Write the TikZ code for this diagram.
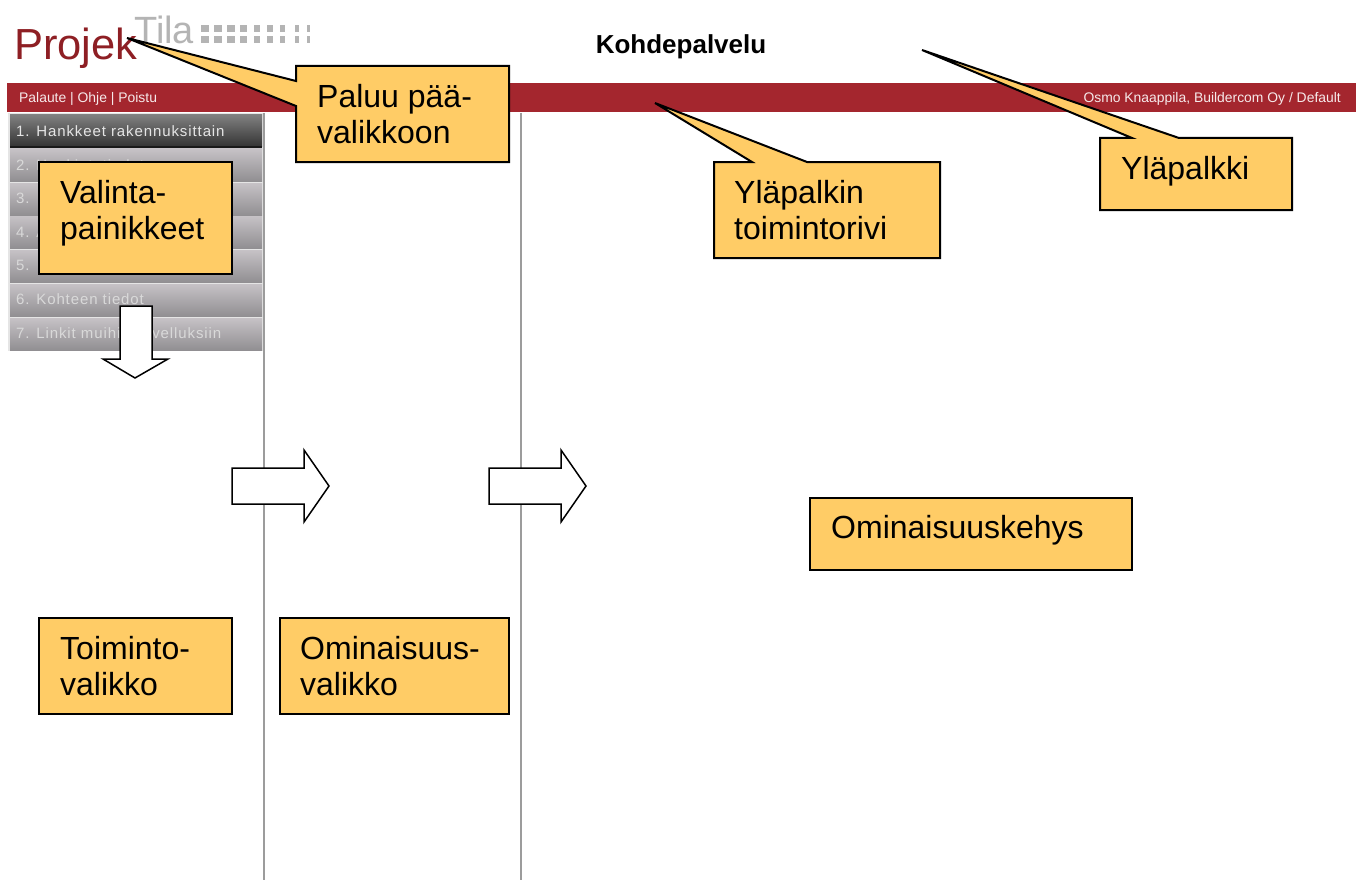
\documentclass[tikz,border=0pt]{standalone}
\usepackage{fontspec}
\setmainfont{Liberation Sans}
\definecolor{barred}{HTML}{A4262E}
\definecolor{calloutfill}{HTML}{FFCC66}
\definecolor{logored}{HTML}{8E1F24}
\definecolor{logogrey}{HTML}{B4B4B4}
\definecolor{vline}{HTML}{9C9C9C}
\definecolor{btntop}{HTML}{C6C2C6}
\definecolor{btnbot}{HTML}{918F92}
\tikzset{
  x=1pt,y=-1pt,
  calloutshape/.style={draw=black,fill=calloutfill,line width=2pt,line join=miter},
  callouttext/.style={font=\fontsize{32}{36}\selectfont,align=left,anchor=north west,inner sep=0pt,text=black},
  blockarrow/.style={draw=black,fill=white,line width=1.5pt,line join=miter},
  menutext/.style={font=\fontsize{15}{15}\selectfont\addfontfeatures{LetterSpace=6},text=#1,anchor=west,inner sep=0pt},
  bartext/.style={font=\fontsize{13.9}{14}\selectfont,text=white!90!barred,inner sep=0pt},
  divider/.style={draw=vline,line width=2pt},
  dotcell/.style={fill=logogrey,draw=none}
}
\begin{document}
\begin{tikzpicture}
\useasboundingbox (0,0) rectangle (1365,880);
\fill[white] (0,0) rectangle (1365,880);
% top bar
\fill[barred] (7,83) rectangle (1356,112);
\node[bartext,anchor=west] (barleft) at (19,99) {Palaute | Ohje | Poistu};
\node[bartext,anchor=east] (barright) at (1341,99) {Osmo Knaappila, Buildercom Oy / Default};
\node[font=\fontsize{26}{26}\selectfont\bfseries,inner sep=0pt] (title) at (681,47) {Kohdepalvelu};
% logo
\node[font=\fontsize{43.5}{44}\selectfont,text=logored,anchor=base west,inner sep=0pt] (logoA) at (14,60) {Projek};
\node[font=\fontsize{38}{38}\selectfont,text=logogrey,anchor=base west,inner sep=0pt] (logoB) at (134,44) {Tila};
\foreach \x/\w in {201/8,214/8,227/8,240/7,254/6,267/6,280/5,295/4,307/3}{
  \fill[dotcell] (\x,25) rectangle ++(\w,7);
  \fill[dotcell] (\x,36) rectangle ++(\w,7);
}
% menu
\fill[white!80!gray] (8,113) rectangle (264,351);
\shade[top color=black!50,bottom color=black!80] (10,115) rectangle (262,147);
\fill[black!90] (10,146.5) rectangle (262,148);
\foreach \a/\b in {149/181,183/215,216/248,250/282,284/316,318/350}{
  \shade[top color=btntop,bottom color=btnbot] (10,\a) rectangle (262,\b);
}
\node[menutext=white!90!black] (m1) at (16,131) {1. Hankkeet rakennuksittain};
\node[menutext=white!85!black] (m2) at (16,165) {2. Hankintatiedot};
\node[menutext=white!85!black] (m3) at (16,198) {3.};
\node[menutext=white!85!black] (m4) at (16,232) {4. A};
\node[menutext=white!85!black] (m5) at (16,265) {5.};
\node[menutext=white!85!black] (m6) at (16,299) {6. Kohteen tiedot};
\node[menutext=white!85!black] (m7) at (16,333) {7. Linkit muihin sovelluksiin};
% dividers
\draw[divider] (264,113) -- (264,880);
\draw[divider] (521,113) -- (521,880);
% block arrows
\draw[blockarrow] (120,306) -- (152,306) -- (152,359) -- (168,359) -- (135,378) -- (103,359) -- (120,359) -- cycle;
\draw[blockarrow] (232,468) -- (304,468) -- (304,450) -- (329,486) -- (304,522) -- (304,504) -- (232,504) -- cycle;
\draw[blockarrow] (489,468) -- (561,468) -- (561,450) -- (586,486) -- (561,522) -- (561,504) -- (489,504) -- cycle;
% callouts
\draw[calloutshape] (296,66) -- (509,66) -- (509,162) -- (296,162) -- (296,106) -- (127,38) -- (296,81) -- cycle;
\node[callouttext] (paluu) at (317,84) {Paluu pää-\\valikkoon};
\draw[calloutshape] (714,162) -- (752,162) -- (655,103) -- (807,162) -- (940,162) -- (940,258) -- (714,258) -- cycle;
\node[callouttext] (toimintorivi) at (734,180) {Yläpalkin\\toimintorivi};
\draw[calloutshape] (1100,138) -- (1132,138) -- (922,50) -- (1179,138) -- (1292,138) -- (1292,210) -- (1100,210) -- cycle;
\node[callouttext] (ylapalkki) at (1121,156) {Yläpalkki};
\draw[calloutshape] (39,162) rectangle (232,274);
\node[callouttext] (valinta) at (60,180) {Valinta-\\painikkeet};
\draw[calloutshape] (39,618) rectangle (232,714);
\node[callouttext] (toiminto) at (60,636) {Toiminto-\\valikko};
\draw[calloutshape] (280,618) rectangle (509,714);
\node[callouttext] (ominaisuus) at (300,636) {Ominaisuus-\\valikko};
\draw[calloutshape] (810,498) rectangle (1132,570);
\node[callouttext] (kehys) at (831,515) {Ominaisuuskehys};
\end{tikzpicture}
\end{document}
